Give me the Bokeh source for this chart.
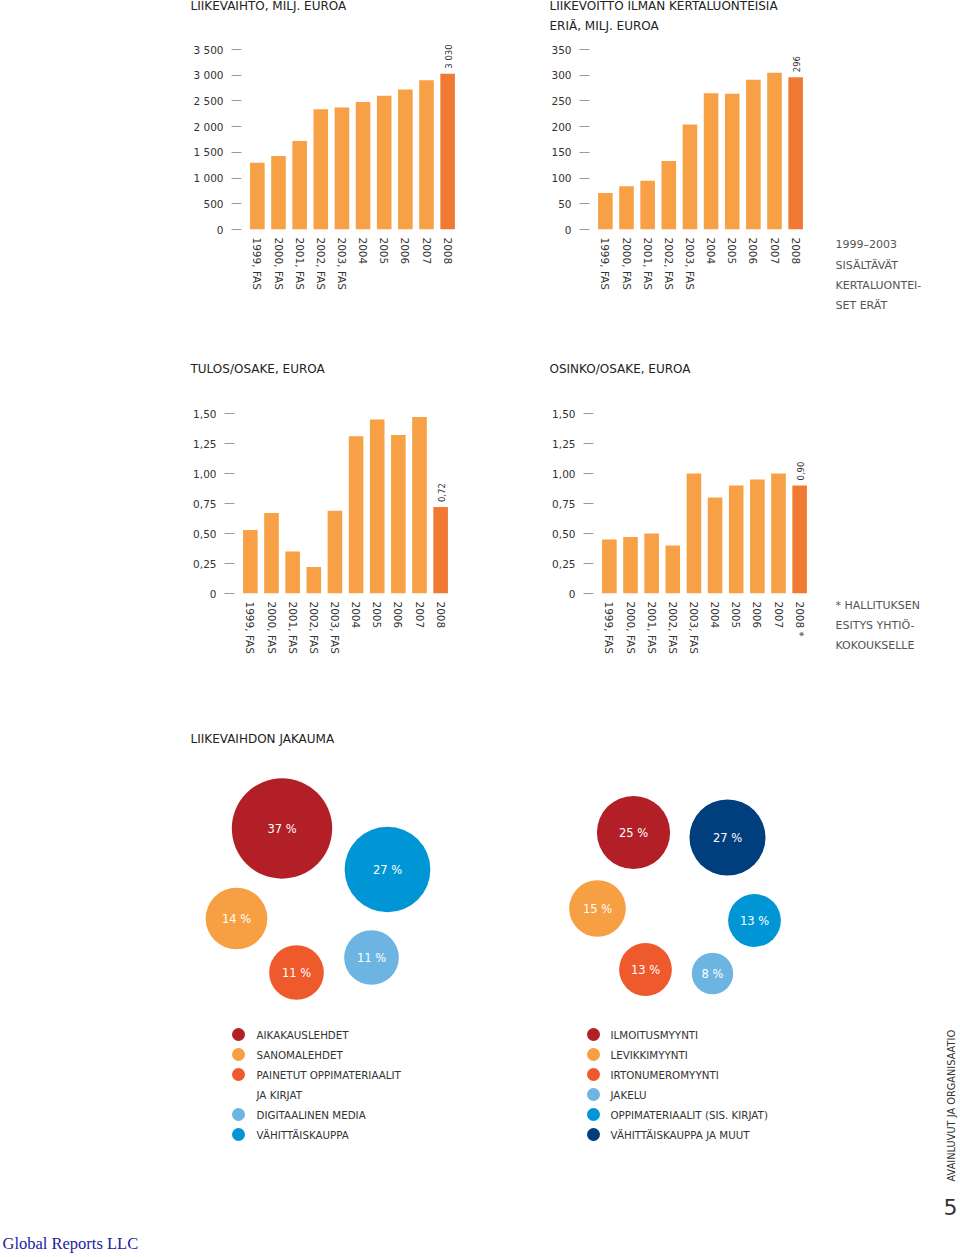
import numpy as np
from math import pi
from bokeh.plotting import figure
from bokeh.models import Range1d, FixedTicker
from bokeh.layouts import column, row
from bokeh.core.properties import value
from bokeh.embed import file_html
from bokeh.resources import INLINE

# ---------------- data ----------------
years = ["1999, FAS", "2000, FAS", "2001, FAS", "2002, FAS", "2003, FAS",
         "2004", "2005", "2006", "2007", "2008"]
years_dividend = years[:-1] + ["2008 *"]

revenue = [1300, 1430, 1720, 2340, 2370, 2480, 2600, 2720, 2900, 3030]
operating_profit = [71, 84, 95, 133, 204, 265, 264, 291, 305, 296]
eps = [0.53, 0.67, 0.35, 0.22, 0.69, 1.31, 1.45, 1.32, 1.47, 0.72]
dividend = [0.45, 0.47, 0.50, 0.40, 1.00, 0.80, 0.90, 0.95, 1.00, 0.90]

revenue_ticks = [0, 500, 1000, 1500, 2000, 2500, 3000, 3500]
revenue_tick_labels = ["0", "500", "1 000", "1 500", "2 000", "2 500", "3 000", "3 500"]
profit_ticks = [0, 50, 100, 150, 200, 250, 300, 350]
profit_tick_labels = ["0", "50", "100", "150", "200", "250", "300", "350"]
share_ticks = [0, 0.25, 0.5, 0.75, 1, 1.25, 1.5]
share_tick_labels = ["0", "0,25", "0,50", "0,75", "1,00", "1,25", "1,50"]

titles_row1 = ["LIIKEVAIHTO, MILJ. EUROA", "LIIKEVOITTO ILMAN KERTALUONTEISIA", "ERIÄ, MILJ. EUROA"]
note_row1 = ["1999–2003", "SISÄLTÄVÄT", "KERTALUONTEI-", "SET ERÄT"]
titles_row2 = ["TULOS/OSAKE, EUROA", "OSINKO/OSAKE, EUROA"]
note_row2 = ["* HALLITUKSEN", "ESITYS YHTIÖ-", "KOKOUKSELLE"]

left_segments = ["AIKAKAUSLEHDET", "SANOMALEHDET", "PAINETUT OPPIMATERIAALIT\nJA KIRJAT",
                 "DIGITAALINEN MEDIA", "VÄHITTÄISKAUPPA"]
left_shares = [37, 14, 11, 11, 27]
right_segments = ["ILMOITUSMYYNTI", "LEVIKKIMYYNTI", "IRTONUMEROMYYNTI", "JAKELU",
                  "OPPIMATERIAALIT (SIS. KIRJAT)", "VÄHITTÄISKAUPPA JA MUUT"]
right_shares = [25, 15, 13, 8, 13, 27]

# ---------------- styles ----------------
FONT = "DejaVu Sans"
TXT = "#333333"
TITLE_C = "#222222"
NOTE_C = "#555555"
BAR = "#F7A046"
BAR_LAST = "#F07934"
C_RED = "#B21F26"
C_ORANGE = "#F7A043"
C_ORRED = "#EE5A2B"
C_LBLUE = "#6CB5E3"
C_BLUE = "#0096D5"
C_NAVY = "#003E7E"
left_colors = [C_RED, C_ORANGE, C_ORRED, C_LBLUE, C_BLUE]
right_colors = [C_RED, C_ORANGE, C_ORRED, C_LBLUE, C_BLUE, C_NAVY]

W = 958


def fmt_value(v, decimals):
    if decimals == 0:
        return f"{v:,.0f}".replace(",", " ")
    return f"{v:.{decimals}f}".replace(".", ",")


def text_fig(x0, x1, y0, y1):
    """A blank figure whose data coordinates equal page pixels."""
    f = figure(width=x1 - x0, height=y1 - y0, x_range=Range1d(x0, x1),
               y_range=Range1d(y1, y0), min_border=0, x_axis_type=None,
               y_axis_type=None, output_backend="svg", toolbar_location=None,
               title=None, frame_align=False)
    f.outline_line_color = None
    f.background_fill_color = "white"
    f.border_fill_color = "white"
    return f


def add_text(f, xs, ys, texts, size, color=TXT, font=FONT, **kw):
    f.text(x=xs, y=ys, text=texts, text_font=value(font), text_font_size=size,
           text_color=color, text_baseline=kw.pop("text_baseline", "middle"), **kw)


def bar_chart(cats, vals, ticks, tick_labels, decimals, fig_w, border_left,
              border_top, frame_h, border_bottom, top_tick_px):
    frame_w = 222
    n = len(cats)
    x0, x1 = -0.75, n - 0.25
    y_end = ticks[-1] * frame_h / top_tick_px
    p = figure(frame_width=frame_w, frame_height=frame_h,
               min_border_left=border_left, min_border_right=fig_w - border_left - frame_w,
               min_border_top=border_top, min_border_bottom=border_bottom,
               x_range=Range1d(x0, x1), y_range=Range1d(0, y_end),
               output_backend="svg", toolbar_location=None, title=None,
               frame_align=False)
    p.outline_line_color = None
    p.grid.visible = False
    p.background_fill_color = "white"
    p.border_fill_color = "white"

    idx = list(range(n))
    colors = [BAR] * (n - 1) + [BAR_LAST]
    p.vbar(x=idx, top=vals, width=0.69, color=colors, line_color=None)

    # value label on the last bar
    p.text(x=[idx[-1]], y=[vals[-1]], text=[fmt_value(vals[-1], decimals)],
           angle=pi / 2, text_align="left", text_baseline="middle",
           y_offset=-5, x_offset=1,
           text_font=value(FONT), text_font_size="8.5px", text_color=TXT)

    xa = p.xaxis[0]
    xa.ticker = FixedTicker(ticks=idx)
    xa.major_label_overrides = {i: c for i, c in zip(idx, cats)}
    xa.major_label_orientation = "vertical"
    xa.axis_line_color = None
    xa.major_tick_line_color = None
    xa.minor_tick_line_color = None
    xa.major_tick_out = 0
    xa.major_tick_in = 0
    xa.major_label_standoff = 8
    xa.major_label_text_font = FONT
    xa.major_label_text_font_size = "10.5px"
    xa.major_label_text_color = TXT

    ya = p.yaxis[0]
    ya.ticker = FixedTicker(ticks=ticks)
    ya.major_label_overrides = {t: l for t, l in zip(ticks, tick_labels)}
    ya.axis_line_color = None
    ya.major_tick_line_color = "#9a9a9a"
    ya.major_tick_out = 10
    ya.major_tick_in = 0
    ya.minor_tick_line_color = None
    ya.major_label_standoff = 8
    ya.major_label_text_font = FONT
    ya.major_label_text_font_size = "10.5px"
    ya.major_label_text_color = TXT
    return p


# ---------------- Row 1: page y 0..335 ----------------
h1 = text_fig(0, W, 0, 36)
add_text(h1, [190, 549, 549], [5, 5, 25], titles_row1, "12px", TITLE_C)

p1 = bar_chart(years, revenue, revenue_ticks, revenue_tick_labels, 0,
               540, 241, 2, 191, 106, 180)          # frame 38..229
p2 = bar_chart(years, operating_profit, profit_ticks, profit_tick_labels, 0,
               280, 49, 2, 191, 106, 180)           # page x 540..820
n1 = text_fig(820, W, 36, 335)
add_text(n1, [835] * 4, [244, 265, 285, 305], note_row1, "11px", NOTE_C)

# ---------------- Row 2: page y 335..700 ----------------
h2 = text_fig(0, W, 335, 380)
add_text(h2, [190, 549], [368, 368], titles_row2, "12px", TITLE_C)

p3 = bar_chart(years, eps, share_ticks, share_tick_labels, 2,
               540, 234, 20, 193, 107, 180)         # frame 400..593
p4 = bar_chart(years_dividend, dividend, share_ticks, share_tick_labels, 2,
               280, 53, 20, 193, 107, 180)
n2 = text_fig(820, W, 380, 700)
add_text(n2, [835] * 3, [605, 625, 645], note_row2, "11px", NOTE_C)

# ---------------- bubbles + legends: page y 700..1255 ----------------
pb = text_fig(0, W, 700, 1255)
add_text(pb, [190], [738], ["LIIKEVAIHDON JAKAUMA"], "12px", TITLE_C)

# bubble layout positions (page coordinates) and size factors
left_pos_x = [281.5, 236, 296, 371, 387]
left_pos_y = [828, 918, 972, 957, 869]
right_pos_x = [633, 597, 645, 712, 754, 727]
right_pos_y = [832, 908, 969, 973, 920, 837]
left_k, right_k = 8.25, 7.32

for pos_x, pos_y, shares, colors, k in [
        (left_pos_x, left_pos_y, left_shares, left_colors, left_k),
        (right_pos_x, right_pos_y, right_shares, right_colors, right_k)]:
    radii = [k * np.sqrt(s) for s in shares]
    pb.circle(x=pos_x, y=pos_y, radius=radii, fill_color=colors, line_color=None)
    add_text(pb, pos_x, pos_y, [f"{s} %" for s in shares], "11.5px", "white",
             text_align="center")

# legends
for segs, colors, dot_x, text_x in [(left_segments, left_colors, 238, 256),
                                     (right_segments, right_colors, 593, 610)]:
    line_y = 1034
    dots_x, dots_y, dots_c = [], [], []
    tx, ty, tt = [], [], []
    for seg, c in zip(segs, colors):
        dots_x.append(dot_x)
        dots_y.append(line_y)
        dots_c.append(c)
        for part in seg.split("\n"):
            tx.append(text_x)
            ty.append(line_y)
            tt.append(part)
            line_y += 20
    pb.scatter(x=dots_x, y=dots_y, size=13, fill_color=dots_c, line_color=None)
    add_text(pb, tx, ty, tt, "10.3px", TXT)

add_text(pb, [951], [1181], ["AVAINLUVUT JA ORGANISAATIO"], "9.8px", TXT,
         angle=pi / 2, text_align="left")
add_text(pb, [950], [1206], ["5"], "22px", TXT, text_align="center")
add_text(pb, [2], [1243], ["Global Reports LLC"], "16.5px", "#22229a",
         font="Liberation Serif", text_align="left")

layout = column(h1, row(p1, p2, n1), h2, row(p3, p4, n2), pb)

open("out.html", "w").write(file_html(layout, INLINE))
